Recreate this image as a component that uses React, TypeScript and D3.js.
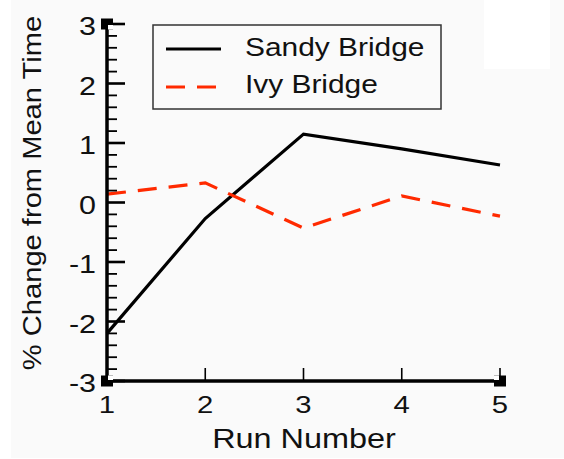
import React from "react";
import * as d3 from "d3";

const runs = [1, 2, 3, 4, 5];
const sandyBridge = [-2.2, -0.27, 1.15, 0.9, 0.63];
const ivyBridge = [0.14, 0.33, -0.43, 0.11, -0.23];
const xTicks = [1, 2, 3, 4, 5];
const yTicks = [-3, -2, -1, 0, 1, 2, 3];
const seriesNames = ["Sandy Bridge", "Ivy Bridge"];
const xTitle = "Run Number";
const yTitle = "% Change from Mean Time";

const FONT = "'Liberation Sans', Arial, Helvetica, sans-serif";
const RED = "#ff2a00";

export default function App() {
  const x = d3.scaleLinear().domain([1, 5]).range([107, 500]);
  const y = d3.scaleLinear().domain([-3, 3]).range([381, 24]);
  const minor = d3.range(-30, 31, 2).map((v) => v / 10).filter((v) => Math.abs(v - Math.round(v)) > 1e-6);
  const line = d3
    .line<number>()
    .x((_, i) => x(runs[i]))
    .y((d) => y(d));

  const sx = 1.22;
  return (
    <div style={{ position: "fixed", left: 0, top: 0 }}>
      <svg width={564} height={459} style={{ display: "block" }}>
        <rect x={0} y={0} width={564} height={459} fill="#ffffff" />
        <rect x={11} y={0} width={553} height={458} fill="#fafafa" />
        <rect x={484} y={0} width={66} height={69} fill="#ffffff" />

        {/* data lines */}
        <path d={line(sandyBridge) || ""} fill="none" stroke="#000" strokeWidth={3.2} strokeLinejoin="miter" />
        <path d={line(ivyBridge) || ""} fill="none" stroke={RED} strokeWidth={3.2} strokeDasharray="19 12" />

        {/* y minor ticks */}
        {minor.map((v) => (
          <line key={"m" + v} x1={107} x2={117} y1={y(v)} y2={y(v)} stroke="#000" strokeWidth={1.8} />
        ))}
        {/* y major ticks */}
        {yTicks.map((v) => (
          <line key={"M" + v} x1={107} x2={125} y1={y(v)} y2={y(v)} stroke="#000" strokeWidth={2.6} />
        ))}
        {/* x ticks */}
        {xTicks.map((v) => (
          <line key={"x" + v} x1={x(v)} x2={x(v)} y1={381} y2={368} stroke="#000" strokeWidth={1.6} />
        ))}
        {/* axes */}
        <line x1={107} x2={107} y1={24} y2={381} stroke="#000" strokeWidth={3.5} />
        <line x1={107} x2={500} y1={381} y2={381} stroke="#000" strokeWidth={3.5} />

        {/* corner markers */}
        {[
          [x(1), y(3), 1, 1],
          [x(1), y(-3), 1, -1],
          [x(5), y(-3), -1, -1],
        ].map(([cx, cy, dx, dy], i) => (
          <g key={"c" + i}>
            <rect x={cx - 6} y={cy - 5.5} width={12} height={11} fill="#000" />
            <rect
              x={dx > 0 ? cx + 1 : cx - 6}
              y={dy > 0 ? cy + 1 : cy - 5.5}
              width={5}
              height={4.5}
              fill="#fff"
            />
          </g>
        ))}

        {/* y tick labels */}
        {yTicks.map((v) => (
          <g key={"yl" + v} transform={`translate(96,${y(v) + 11}) scale(${sx},1)`}>
            <text x={0} y={0} textAnchor="end" fontFamily={FONT} fontSize={25} fill="#111">
              {v}
            </text>
          </g>
        ))}
        {/* x tick labels */}
        {xTicks.map((v) => (
          <g key={"xl" + v} transform={`translate(${x(v)},413) scale(${sx},1)`}>
            <text x={0} y={0} textAnchor="middle" fontFamily={FONT} fontSize={24} fill="#111">
              {v}
            </text>
          </g>
        ))}

        {/* axis titles */}
        <g transform={`translate(304,448) scale(1.2,1)`}>
          <text textAnchor="middle" fontFamily={FONT} fontSize={27} fill="#111">
            {xTitle}
          </text>
        </g>
        <g transform={`translate(41,193) rotate(-90) scale(1.12,1)`}>
          <text textAnchor="middle" fontFamily={FONT} fontSize={26} fill="#111">
            {yTitle}
          </text>
        </g>

        {/* legend */}
        <rect x={153} y={25} width={288} height={84} fill="none" stroke="#333" strokeWidth={1.5} />
        <line x1={166} x2={221} y1={49} y2={49} stroke="#000" strokeWidth={3.2} />
        <line x1={166} x2={221} y1={87} y2={87} stroke={RED} strokeWidth={3.2} strokeDasharray="19 12" />
        <g transform={`translate(245,56) scale(1.15,1)`}>
          <text fontFamily={FONT} fontSize={26} fill="#111">
            {seriesNames[0]}
          </text>
        </g>
        <g transform={`translate(245,93) scale(1.15,1)`}>
          <text fontFamily={FONT} fontSize={26} fill="#111">
            {seriesNames[1]}
          </text>
        </g>
      </svg>
    </div>
  );
}
